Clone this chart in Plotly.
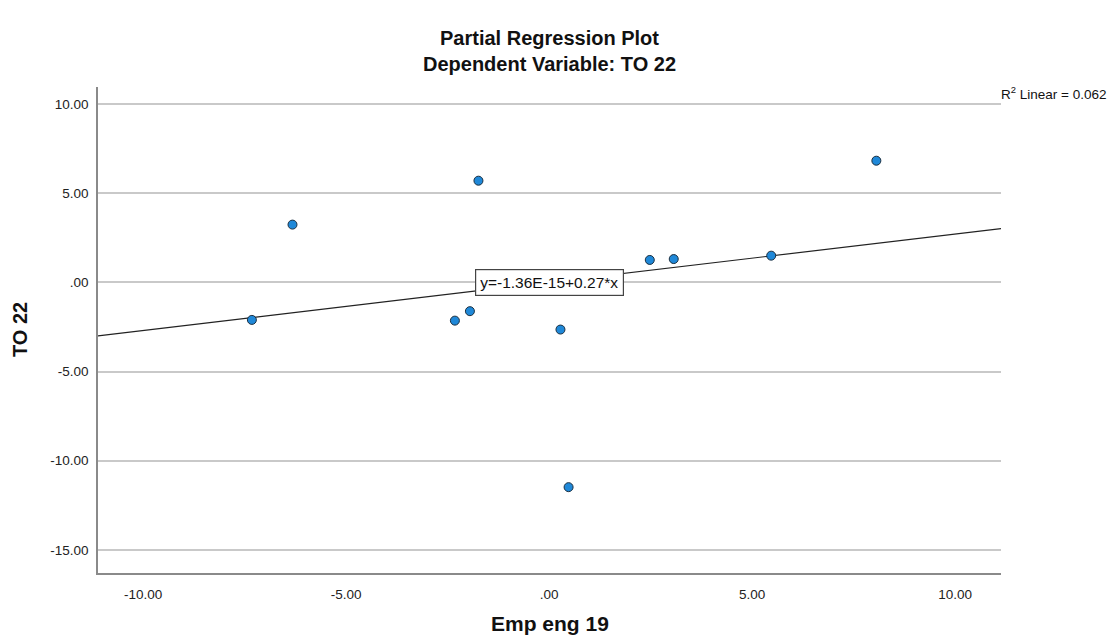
import plotly.graph_objects as go

# Data
emp_eng_19 = [-7.32, -6.32, -1.74, -2.32, -1.95, 0.28, 0.48, 2.48, 3.07, 5.47, 8.06]
to_22 = [-2.11, 3.23, 5.69, -2.15, -1.62, -2.65, -11.48, 1.25, 1.30, 1.49, 6.81]
fit_intercept = -1.36e-15
fit_slope = 0.27
r2_linear = 0.062

x_tickvals = [-10, -5, 0, 5, 10]
x_ticktext = ["-10.00", "-5.00", ".00", "5.00", "10.00"]
y_tickvals = [-15, -10, -5, 0, 5, 10]
y_ticktext = ["-15.00", "-10.00", "-5.00", ".00", "5.00", "10.00"]

x_range = [-11.11, 11.13]
y_range = [-16.29, 10.94]

FONT = "Liberation Sans, Arial, sans-serif"

fit_x = x_range
fit_y = [fit_intercept + fit_slope * v for v in fit_x]

fig = go.Figure()
fig.add_trace(go.Scatter(
    x=fit_x, y=fit_y, mode="lines",
    line=dict(color="#222222", width=1.2),
    hoverinfo="skip", showlegend=False,
))
fig.add_trace(go.Scatter(
    x=emp_eng_19, y=to_22, mode="markers",
    marker=dict(size=9, color="#1f88d8", line=dict(color="#1b2f40", width=1)),
    showlegend=False,
))

annotations = [
    dict(text="<b>Partial Regression Plot</b>", xref="paper", yref="paper", x=0.5, y=1,
         xanchor="center", yanchor="middle", yshift=49, showarrow=False,
         font=dict(family=FONT, size=20, color="#111111")),
    dict(text="<b>Dependent Variable: TO 22</b>", xref="paper", yref="paper", x=0.5, y=1,
         xanchor="center", yanchor="middle", yshift=23, showarrow=False,
         font=dict(family=FONT, size=20, color="#111111")),
    dict(text="<b>Emp eng 19</b>", xref="paper", yref="paper", x=0.5, y=0,
         xanchor="center", yanchor="middle", yshift=-50, showarrow=False,
         font=dict(family=FONT, size=21, color="#111111")),
    dict(text="<b>TO 22</b>", xref="paper", yref="paper", x=0, y=0.5,
         xanchor="center", yanchor="middle", xshift=-78, textangle=-90, showarrow=False,
         font=dict(family=FONT, size=20, color="#111111")),
    dict(text="R<sup>2</sup> Linear = %.3f" % r2_linear, xref="paper", yref="paper", x=1, y=1,
         xanchor="left", yanchor="middle", xshift=-2, yshift=-6, showarrow=False,
         font=dict(family=FONT, size=13.5, color="#111111")),
    dict(text="y=%.2E+%.2f*x" % (fit_intercept, fit_slope), xref="x", yref="y", x=0, y=0,
         xanchor="center", yanchor="middle", showarrow=False,
         bgcolor="white", bordercolor="#444444", borderwidth=1.2, borderpad=4,
         font=dict(family=FONT, size=15.5, color="#111111")),
]

fig.update_layout(
    width=1117, height=643,
    margin=dict(l=98, r=116, t=87, b=70),
    paper_bgcolor="white", plot_bgcolor="white",
    font=dict(family=FONT, size=13.5, color="#222222"),
    annotations=annotations,
    xaxis=dict(range=x_range, tickvals=x_tickvals, ticktext=x_ticktext,
               showgrid=False, zeroline=False, showline=True, linecolor="#8a8a8a", linewidth=1.5,
               ticks="outside", ticklen=8, tickcolor="rgba(0,0,0,0)",
               tickfont=dict(family=FONT, size=13.5, color="#222222")),
    yaxis=dict(range=y_range, tickvals=y_tickvals, ticktext=y_ticktext,
               showgrid=True, gridcolor="#c9c9c9", gridwidth=1.5, zeroline=False,
               showline=True, linecolor="#8a8a8a", linewidth=1.5,
               ticks="outside", ticklen=5, tickcolor="rgba(0,0,0,0)",
               tickfont=dict(family=FONT, size=13.5, color="#222222")),
    hovermode=False,
)

fig.write_html("out.html", config={"displayModeBar": False},
               post_script="document.body.style.margin='0px';")
